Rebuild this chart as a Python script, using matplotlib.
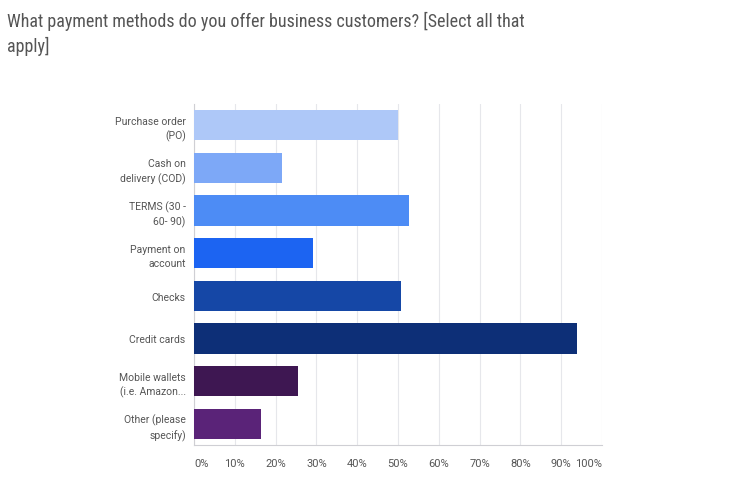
import matplotlib.pyplot as plt

labels = ["Purchase order\n(PO)", "Cash on\ndelivery (COD)", "TERMS (30 -\n60- 90)",
          "Payment on\naccount", "Checks", "Credit cards",
          "Mobile wallets\n(i.e. Amazon...", "Other (please\nspecify)"]
values = [50.0, 21.6, 52.8, 29.2, 50.7, 93.9, 25.5, 16.3]
colors = ["#AEC8F8", "#7DA8F7", "#4D8CF5", "#1C64F2", "#1547A6",
          "#0D2F77", "#3E1752", "#5A2378"]
ticks = list(range(0, 101, 10))
tick_labels = [f"{t}%" for t in ticks]

plt.rcParams["font.family"] = ["Roboto", "DejaVu Sans"]

fig = plt.figure(figsize=(7.5, 4.89), dpi=100)
ax = fig.add_axes([0.2587, 0.0879, 0.5440, 0.6974])

y = list(range(len(labels)))
ax.barh(y, values, height=0.71, color=colors, zorder=3)
ax.set_ylim(len(labels) - 0.5, -0.5)
ax.set_xlim(0, 100)

ax.set_yticks(y)
ax.set_yticklabels(labels, fontsize=7.5, color="#555555", linespacing=1.45)
ax.set_xticks(ticks)
ax.set_xticklabels(tick_labels, fontsize=8, color="#555555")
xl = ax.get_xticklabels()
xl[0].set_ha("left")
xl[-1].set_ha("right")
ax.tick_params(axis="y", length=0, pad=6)
ax.tick_params(axis="x", length=0, pad=9)

ax.grid(axis="x", color="#E6E7EB", linewidth=0.8, zorder=0)
for s in ["top", "right"]:
    ax.spines[s].set_visible(False)
ax.spines["left"].set_color("#CFCFD4")
ax.spines["bottom"].set_color("#CFCFD4")
ax.spines["left"].set_linewidth(0.8)
ax.spines["bottom"].set_linewidth(0.8)

fig.text(0.009, 0.976, "What payment methods do you offer business customers? [Select all that\napply]",
         fontsize=13, color="#555555", va="top", ha="left", linespacing=1.4,
         family=["Roboto Condensed", "Roboto", "DejaVu Sans"])

fig.savefig("out.png", dpi=100)
